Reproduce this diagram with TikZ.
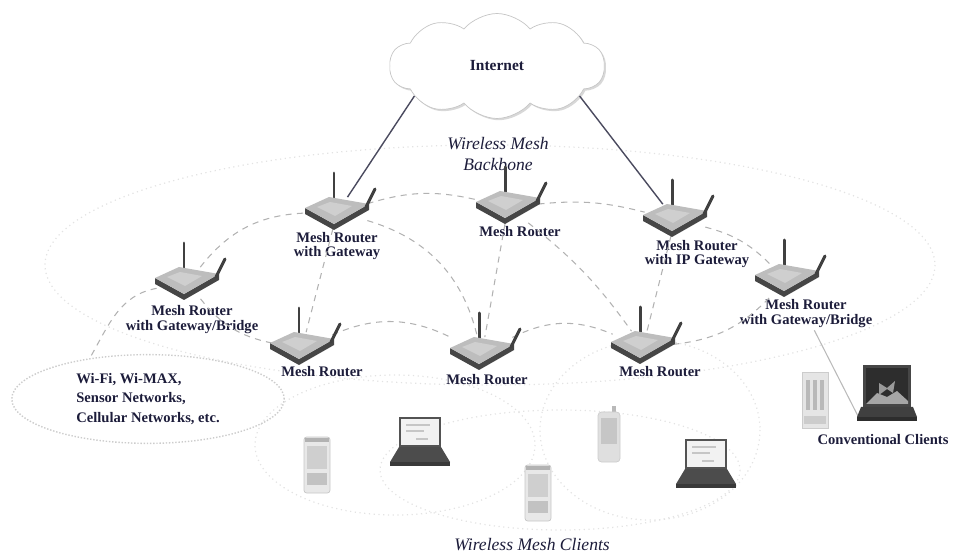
\documentclass[tikz,border=0pt]{standalone}
\usepackage{fontspec}
\setmainfont{Liberation Serif}
\usetikzlibrary{shapes,shapes.geometric,shapes.symbols,shadows,positioning}
\definecolor{ink}{RGB}{28,28,58}
\definecolor{wire}{RGB}{75,75,95}

\begin{document}
\begin{tikzpicture}[x=0.02cm,y=-0.02cm]
	\tikzstyle{tag} = [text=ink, font=\fontsize{8.3}{8.5}\selectfont\bfseries, align=center, inner sep=1pt]
	\tikzstyle{area} = [text=ink, font=\fontsize{10}{12.5}\selectfont\itshape, align=center]
	\tikzstyle{rtr} = [inner sep=0pt, minimum width=1.2cm, minimum height=0.62cm]
	\tikzstyle{client} = [inner sep=0pt, minimum width=1.1cm, minimum height=1.0cm]
	\tikzstyle{link} = [draw=gray!60, dash pattern=on 3.5pt off 3pt, line width=0.6pt]
	\tikzstyle{reach} = [draw=gray!22, dotted, line width=0.7pt]
	\tikzstyle{uplink} = [draw=wire, line width=0.8pt]
	\tikzstyle{antenna} = [line width=1.7pt, gray!50!black, line cap=round]

	% icons, drawn in pixel-like units around their centre
	\tikzset{
		pics/meshrouter/.style={code={
			\draw[antenna] (-3,-6) -- (-3,-40);
			\fill[gray!55!black] (-32,-5) -- (-3,11) -- (32,-9) -- (32,-3) -- (-3,17) -- (-32,1) -- cycle;
			\fill[gray!52] (-32,-5) -- (-8,-16) -- (32,-9) -- (-3,11) -- cycle;
			\fill[gray!38] (-20,-6) -- (-7,-11) -- (15,-7) -- (-2,3) -- cycle;
			\draw[antenna] (29,-6) -- (38,-24);
		}},
		pics/handset/.style={code={
			\filldraw[fill=gray!18, draw=gray!45, rounded corners=1.5pt] (-13,-28) rectangle (13,28);
			\fill[gray!60] (-12,-27) rectangle (12,-23);
			\fill[gray!38] (-10,-19) rectangle (10,4);
			\fill[gray!48] (-10,8) rectangle (10,20);
		}},
		pics/pda/.style={code={
			\fill[gray!55] (3,-30) rectangle (7,-24);
			\filldraw[fill=gray!25, draw=gray!40, rounded corners=2pt] (-11,-24) rectangle (11,26);
			\fill[gray!45] (-8,-18) rectangle (8,8);
		}},
		pics/notebook/.style={code={
			\filldraw[fill=gray!10, draw=gray!65!black, line width=1.2pt] (-20,-24) rectangle (20,4);
			\draw[gray!45, line width=0.8pt] (-14,-17) -- (10,-17) (-14,-11) -- (4,-11) (-4,-3) -- (8,-3);
			\fill[gray!60!black] (-21,5) -- (21,5) -- (30,20) -- (-30,20) -- cycle;
			\fill[gray!45!black] (-30,20) rectangle (30,24);
		}},
		pics/darknotebook/.style={code={
			\fill[gray!55!black] (-24,-28) rectangle (24,14);
			\fill[gray!35!black] (-21,-25) rectangle (21,11);
			\fill[gray!70] (-21,11) -- (-10,0) -- (0,4) -- (10,-2) -- (21,8) -- (21,11) -- cycle;
			\fill[gray!80] (-8,-10) -- (0,-5) -- (8,-12) -- (6,0) -- (0,-4) -- (-8,2) -- cycle;
			\fill[gray!50!black] (-26,14) -- (26,14) -- (30,24) -- (-30,24) -- cycle;
			\fill[gray!35!black] (-30,24) rectangle (30,28);
		}},
		pics/deskphone/.style={code={
			\filldraw[fill=gray!20, draw=gray!40] (-13,-28) rectangle (13,28);
			\foreach \u in {-7,0,7} \fill[gray!55] (\u-2,-20) rectangle (\u+2,10);
			\fill[gray!40] (-11,16) rectangle (11,24);
		}}
	}

	\useasboundingbox (0,0) rectangle (956,553);

	% coverage areas
	\draw[reach] (490,265) ellipse [x radius=445, y radius=120];
	\draw[reach] (395,445) ellipse [x radius=140, y radius=70];
	\draw[reach] (560,470) ellipse [x radius=180, y radius=60];
	\draw[reach] (650,430) ellipse [x radius=110, y radius=90];

	\node (inet) [cloud, cloud puffs=10, cloud puff arc=100, cloud ignores aspect, draw=gray!45, fill=white,
		minimum width=4.3cm, minimum height=2.1cm, text=ink, font=\fontsize{8.8}{10}\selectfont\bfseries,
		drop shadow={shadow xshift=1pt, shadow yshift=-1pt, fill=gray!60}] at (497,66) {Internet};

	% routers
	\node (gateL) [rtr] at (187,283) {};
	\node (gate) [rtr] at (337,213) {};
	\node (rtr0) [rtr] at (508,207) {};
	\node (gateIP) [rtr] at (675,220) {};
	\node (gateR) [rtr] at (787,280) {};
	\node (rtr1) [rtr] at (302,348) {};
	\node (rtr2) [rtr] at (482,353) {};
	\node (rtr3) [rtr] at (643,347) {};

	\node (gateLtext) [tag] at (192,320) {Mesh Router\\with Gateway/Bridge};
	\node (gatetext) [tag] at (337,246) {Mesh Router\\with Gateway};
	\node (rtr0text) [tag] at (520,232) {Mesh Router};
	\node (gateIPtext) [tag] at (697,254) {Mesh Router\\with IP Gateway};
	\node (gateRtext) [tag] at (806,314) {Mesh Router\\with Gateway/Bridge};
	\node (rtr1text) [tag] at (322,372) {Mesh Router};
	\node (rtr2text) [tag] at (487,380) {Mesh Router};
	\node (rtr3text) [tag] at (660,372) {Mesh Router};

	\node (backbone) [area] at (498,154) {Wireless Mesh\\Backbone};
	\node (meshclients) [area] at (532,545) {Wireless Mesh Clients};

	\node (wifi) [ellipse, draw=gray!40, densely dotted, line width=0.8pt, minimum width=5.45cm, minimum height=1.76cm,
		text=ink, align=left, font=\fontsize{8.3}{11}\selectfont\bfseries] at (148,399)
		{Wi-Fi, Wi-MAX,\\Sensor Networks,\\Cellular Networks, etc.};

	% clients
	\node (phoneA) [client] at (317,465) {};
	\node (laptopA) [client] at (420,442) {};
	\node (phoneB) [client] at (538,493) {};
	\node (pdaC) [client] at (609,436) {};
	\node (laptopB) [client] at (706,464) {};
	\node (convphone) [client] at (815,400) {};
	\node (convlaptop) [client] at (887,393) {};
	\node (convtext) [tag] at (883,440) {Conventional Clients};

	% backbone links
	\draw[link] (gateL) to[bend left=25] (gate);
	\draw[link] (gate) to[bend left=15] (rtr0);
	\draw[link] (rtr0) to[bend left=10] (gateIP);
	\draw[link] (gateIP) to[bend left=15] (gateR);
	\draw[link] (gateIP) -- (rtr3);
	\draw[link] (gate) -- (rtr1);
	\draw[link] (gate) to[bend left=30] (rtr2);
	\draw[link] (rtr0) -- (rtr2);
	\draw[link] (rtr0) to[bend left=8] (rtr3);
	\draw[link] (gateL) to[bend right=20] (rtr1);
	\draw[link] (rtr1) to[bend left=25] (rtr2);
	\draw[link] (rtr2) to[bend left=25] (rtr3);
	\draw[link] (rtr3) to[bend right=20] (gateR);
	\draw[link] (gateL) to[out=190, in=60] (wifi.145);

	% wired links
	\draw[uplink] (inet.200) -- (gate);
	\draw[uplink] (inet.340) -- (gateIP);
	\draw[draw=gray!55, line width=0.6pt] (gateRtext) -- (convlaptop.south west);

	\foreach \r in {gateL,gate,rtr0,gateIP,gateR,rtr1,rtr2,rtr3}
		\pic at (\r) {meshrouter};

	\pic at (phoneA) {handset};
	\pic at (phoneB) {handset};
	\pic at (laptopA) {notebook};
	\pic at (laptopB) {notebook};
	\pic at (pdaC) {pda};
	\pic at (convphone) {deskphone};
	\pic at (convlaptop) {darknotebook};
\end{tikzpicture}
\end{document}
